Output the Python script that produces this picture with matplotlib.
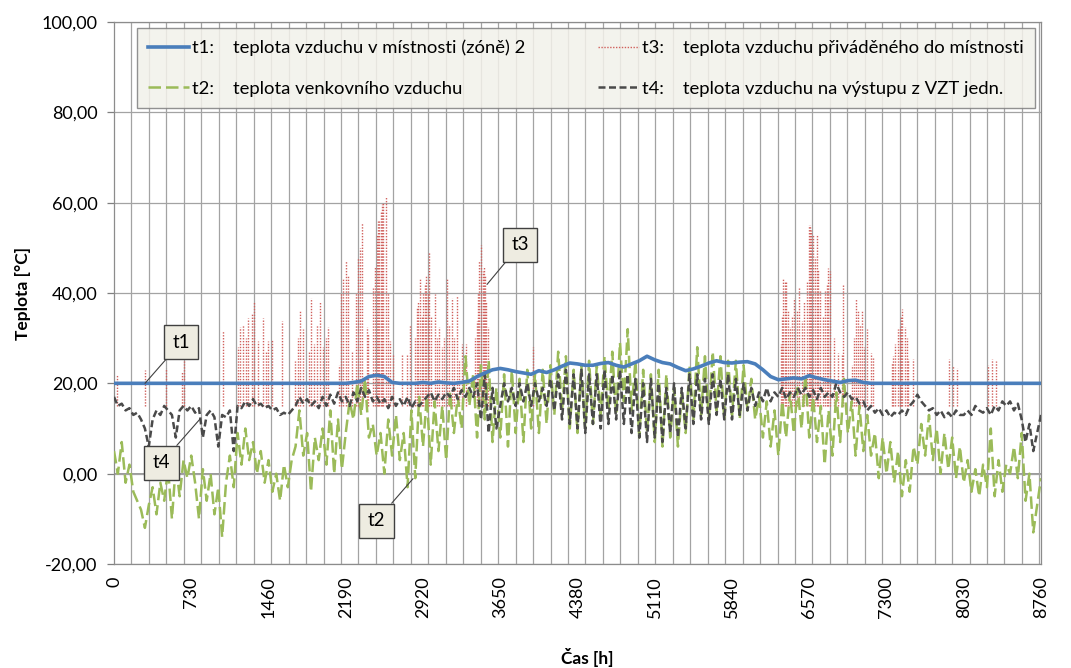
import numpy as np
import matplotlib
matplotlib.use('Agg')
import matplotlib.pyplot as plt
from matplotlib.ticker import MultipleLocator, FuncFormatter

plt.rcParams['font.family'] = ['Lato', 'DejaVu Sans']

# outdoor air t2 (samples every 36.5 h)
t2 = [5, 0, 7, -2, 2, -4, -6, -8, -12, -7, -3, -9, -2, -6, 1, -10, 2, -5, 3, -1,
      4, -2, -10, 1, -6, 0, -9, -3, -14, -2, 4, -3, 9, 2, 10, 3, 7, 0, 5, -2,
      3, -4, 0, -6, 2, -3, 3, 6, 14, 4, 9, -4, 8, 3, 10, 2, 14, 0, 12, 1,
      9, 16, 12, 20, 13, 21, 8, 11, 4, 9, 0, 12, 4, 13, 3, 9, -3, 14, -1, 17,
      6, 17, 2, 16, 5, 15, 3, 18, 9, 17, 10, 26, 15, 22, 8, 24, 12, 25, 7, 19,
      8, 22, 6, 23, 9, 21, 7, 23, 10, 22, 9, 23, 11, 24, 13, 27, 14, 26, 10, 23,
      9, 24, 10, 25, 11, 24, 13, 26, 14, 27, 13, 29, 16, 32, 14, 25, 8, 23, 9, 22,
      7, 23, 6, 22, 8, 19, 6, 18, 9, 24, 12, 28, 13, 26, 12, 27, 14, 26, 12, 25,
      13, 25, 12, 24, 14, 21, 12, 17, 8, 16, 6, 14, 4, 16, 8, 18, 9, 19, 10, 22,
      8, 17, 7, 15, 2, 14, 4, 18, 7, 21, 9, 16, 4, 15, 5, 13, 4, 9, -1, 8,
      0, 7, -2, 5, -5, 3, -4, 6, 2, 11, 4, 13, 3, 10, 0, 9, 1, 8, -1, 6,
      -2, 3, -4, 1, -5, 2, -3, 10, -5, 3, -4, 2, 0, 6, -1, 9, -6, 0, -13, -7,
      -1]

# air at AHU outlet t4 (samples every 36.5 h)
t4 = [17, 15, 15.5, 14, 14.5, 13, 13.5, 12, 10, 6, 12, 14, 13, 15, 14, 13, 8, 14, 15, 14,
      15, 13.5, 14.5, 8, 13, 14, 12.5, 6, 13, 12.5, 14, 5, 15, 14.5, 16, 15, 16.5, 15, 15.5, 14.5,
      15, 14, 14.5, 13, 13.5, 13, 14, 15, 17, 15.5, 16.5, 15, 16, 14.5, 17, 15, 17.5, 15.5, 18, 16,
      17, 15, 18, 16, 19, 17, 18.5, 16, 17, 15.5, 16.5, 14.5, 17, 15, 16.5, 15, 17, 14.5, 16, 15,
      16, 17, 18, 16, 17.5, 16.5, 18, 17, 19, 16.5, 18.5, 17, 19, 17, 20, 12, 22, 9, 19, 10,
      15, 20, 16, 19, 15, 20, 16, 20, 15, 20, 16, 19, 15, 21, 14, 22, 12, 23, 11, 22,
      10, 23, 9, 22, 11, 22, 10, 23, 11, 22, 12, 23, 11, 22, 9, 21, 8, 20, 7, 21,
      8, 20, 7, 19, 9, 20, 8, 19, 10, 22, 11, 22, 12, 21, 11, 22, 13, 21, 12, 22,
      12, 21, 13, 20, 14, 19, 15, 18, 16, 19, 16, 18, 17, 19, 16.5, 18, 17, 19, 17.5, 19,
      17, 18.5, 16.5, 19, 17, 18, 17, 20, 18, 17, 18, 16.5, 17, 15.5, 16, 14, 15, 13.5, 14.5, 13,
      14, 12.5, 13.5, 13, 14, 13, 15, 16, 17.5, 16, 15, 14, 14.5, 13, 14, 12.5, 13.5, 12.5, 14, 13,
      13, 14, 13, 15, 14, 13.5, 14.5, 13, 15, 14, 16, 15, 16, 14, 15.5, 12, 7, 11, 5, 9,
      13]

# room air t1 (samples every 73 h)
t1 = [20] * 31 + [20.2, 20.5, 21.5, 21.8, 21.5, 20.2, 20,
      20, 20, 20.2, 20, 20.3, 20.1, 20, 20.2, 20.5, 21.5, 22.3, 23, 23.3, 23,
      22.6, 22.3, 22, 22.8, 22.4, 23, 23.8, 24.5, 24.3, 24, 24, 24.4, 24.6, 24,
      23.6, 24.3, 25, 26, 25.2, 24.6, 24.3, 23.5, 22.8, 23.2, 23.8, 24.5, 25, 24.6,
      24.5, 24.7, 24.8, 24.3, 23, 21.5, 20.8, 21, 21.2, 21, 21.7, 21.2, 20.8, 20.5,
      20.2, 20.6, 20.7, 20.2] + [20] * 23

# supply air t3: daily peaks (hour, peak temperature)
t3_h = [32, 293, 488, 640, 661, 1027, 1170, 1191, 1222, 1246, 1270, 1300, 1323, 1363, 1411,
        1435, 1458, 1496, 1584, 1710, 1735, 1758, 1783, 1840, 1861, 1893, 1920, 1947, 1978,
        2000, 2025, 2123, 2145, 2167, 2190, 2214, 2246, 2285, 2309, 2325, 2340, 2388, 2404,
        2450, 2466, 2482, 2495, 2507, 2520, 2533, 2545, 2570, 2590, 2608, 2640, 2718, 2766,
        2797, 2840, 2860, 2876, 2892, 2907, 2923, 2936, 2949, 2965, 2980, 3000, 3034, 3055,
        3075, 3100, 3118, 3150, 3170, 3191, 3215, 3238, 3260, 3285, 3326, 3410, 3427, 3440,
        3453, 3466, 3484, 3495, 3506, 3520, 3538, 3963,
        6300, 6312, 6325, 6337, 6350, 6370, 6388, 6410, 6426, 6450, 6473, 6498, 6522, 6546,
        6564, 6577, 6590, 6602, 6620, 6640, 6655, 6672, 6700, 6719, 6735, 6751, 6766, 6800,
        6845, 6876, 6892, 6971, 6990, 7012, 7034, 7050, 7066, 7090, 7113, 7151, 7176, 7349,
        7365, 7380, 7406, 7428, 7440, 7450, 7475, 7490, 7507, 7548, 7894, 7932, 7964, 8263,
        8294, 8332]
t3_peak = [22, 23, 23.5, 22.8, 25, 31.6, 28, 32.4, 33, 30, 34.5, 35.6, 38, 29.4, 34.5,
           27, 29.4, 29.5, 33.8, 25, 30, 36, 32, 27, 39, 28.7, 33, 37.9, 28,
           30, 32.4, 24, 40, 43.4, 47, 44, 27, 40, 47.8, 50, 55.5, 32.4, 31,
           41, 46, 53, 56, 56, 58, 59.6, 60, 61.4, 40, 29.4, 26.5, 26.5, 26.5,
           33, 30, 36.8, 38, 43.4, 35, 40, 42, 44, 40, 49, 35, 39.7, 30,
           32.4, 28, 30, 43.4, 33, 39, 30, 39.3, 25, 28.7, 28.7, 30, 33.8, 40,
           47, 50.7, 44.8, 46, 44, 38, 32.4, 28,
           28.7, 35, 43.4, 42.6, 42.6, 36, 32.4, 35, 39, 36, 41, 33.8, 38, 42.6,
           55, 55, 54, 53, 48, 53, 45, 40.4, 35, 40.4, 42, 45.6, 44.8, 30,
           26.8, 26.5, 42, 24, 30, 38.6, 36, 33, 36, 28, 32, 26.8, 25.7, 24.6,
           26, 28.7, 32, 32.4, 35, 36.4, 32.4, 30, 25.4, 25.4, 25.4, 23.9, 23.5, 24,
           25.4, 25]
t3_base = 15

labels = ['t1:    teplota vzduchu v místnosti (zóně) 2',
          't2:    teplota venkovního vzduchu',
          't3:    teplota vzduchu přiváděného do místnosti',
          't4:    teplota vzduchu na výstupu z VZT jedn.']

x_ticks = list(range(0, 8761, 730))
y_ticks = [-20, 0, 20, 40, 60, 80, 100]

h2 = np.linspace(0, 8760, len(t2))
h4 = np.linspace(0, 8760, len(t4))
h1 = np.linspace(0, 8760, len(t1))

fig = plt.figure(figsize=(10.71, 6.68), dpi=100)
ax = fig.add_axes([114 / 1071, 1 - 564 / 668, 927 / 1071, 542 / 668])

# grid
ax.xaxis.set_minor_locator(MultipleLocator(165))
ax.grid(which='minor', axis='x', color='#a3a3a3', lw=0.9)
ax.grid(which='major', axis='y', color='#a3a3a3', lw=0.9)
ax.axhline(0, color='#7f7f7f', lw=1.1, zorder=1.5)

l3 = ax.vlines(t3_h, t3_base, t3_peak, colors='#d0605c', linestyles=(0, (1, 1.1)),
               lw=1.0, zorder=2, label=labels[2])
l2, = ax.plot(h2, t2, color='#9bbb59', lw=1.8, dashes=(5, 2), zorder=3, label=labels[1])
l4, = ax.plot(h4, t4, color='#4a4a4a', lw=1.8, dashes=(2.8, 1.4), zorder=4, label=labels[3])
l1, = ax.plot(h1, t1, color='#4a7ebb', lw=2.6, zorder=5, label=labels[0])

ax.set_xlim(0, 8760)
ax.set_ylim(-20, 100)
ax.set_xticks(x_ticks)
ax.set_yticks(y_ticks)
ax.yaxis.set_major_formatter(FuncFormatter(lambda v, p: f'{v:.2f}'.replace('.', ',')))
ax.tick_params(axis='x', which='both', length=0, pad=9, labelsize=13, labelrotation=90)
ax.tick_params(axis='y', length=5, width=0.9, color='#7f7f7f', pad=7, labelsize=13)

for s in ax.spines.values():
    s.set_color('#8c8c8c')
    s.set_linewidth(0.9)

ax.set_ylabel('Teplota [°C]', fontsize=12.5, fontweight='bold')
ax.yaxis.set_label_coords(-0.09, 0.5)
ax.set_xlabel('Čas [h]', fontsize=12.5, fontweight='bold')
ax.xaxis.set_label_coords(0.511, -0.155)

leg = ax.legend([l1, l2, l3, l4], labels, ncol=2, loc='upper left',
                bbox_to_anchor=(0.0248, 0.845, 0.9687, 0.144), mode='expand',
                fontsize=13.3, frameon=True, fancybox=False, framealpha=0.85,
                facecolor='#f2f1ea', edgecolor='#7f7f7f', handlelength=2.2,
                handletextpad=0.16, labelspacing=1.35, borderpad=0.62,
                borderaxespad=0, columnspacing=2)
leg.get_frame().set_linewidth(1.0)

box = dict(boxstyle='square,pad=0.45', fc='#eeece1', ec='#404040', lw=1.0)
arrow = dict(arrowstyle='-', color='#404040', lw=0.8, shrinkA=0, shrinkB=0)
ax.annotate('t1', xy=(293, 20), xytext=(633, 29.1), fontsize=13.5, ha='center', va='center',
            bbox=box, arrowprops=arrow, zorder=10)
ax.annotate('t4', xy=(813, 12.1), xytext=(449, 2.4), fontsize=13.5, ha='center', va='center',
            bbox=box, arrowprops=arrow, zorder=10)
ax.annotate('t2', xy=(2826, -1.1), xytext=(2481, -10.4), fontsize=13.5, ha='center', va='center',
            bbox=box, arrowprops=arrow, zorder=10)
ax.annotate('t3', xy=(3525, 41.9), xytext=(3837, 50.7), fontsize=13.5, ha='center', va='center',
            bbox=box, arrowprops=arrow, zorder=10)

plt.savefig('out.png', dpi=100)
